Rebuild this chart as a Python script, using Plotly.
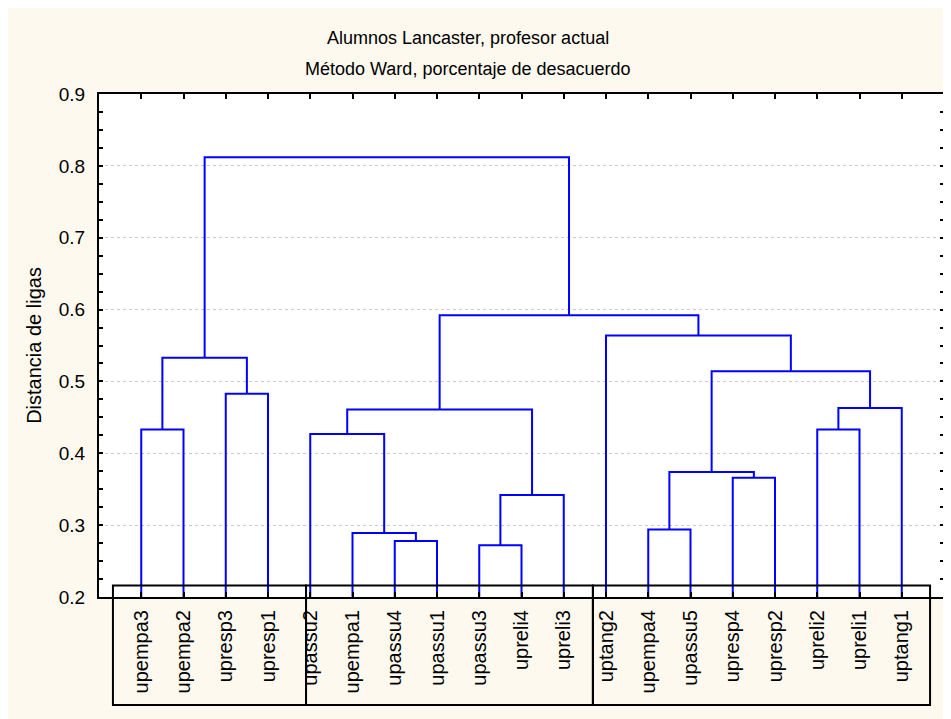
import plotly.graph_objects as go

# ---------------- data ----------------
leaf_labels = ["upempa3", "upempa2", "upresp3", "upresp1", "upassu2", "upempa1",
               "upassu4", "upassu1", "upassu3", "upreli4", "upreli3", "uptang2",
               "upempa4", "upassu5", "upresp4", "upresp2", "upreli2", "upreli1",
               "uptang1"]
# linkage: (left id, right id, height); ids 0..18 are leaves, 19+ are merges in order
merge_left = [0, 2, 19, 6, 5, 4, 8, 25, 24, 12, 14, 28, 16, 31, 30, 11, 27, 21]
merge_right = [1, 3, 20, 7, 22, 23, 9, 10, 26, 13, 15, 29, 17, 18, 32, 33, 34, 35]
merge_height = [0.433, 0.483, 0.533, 0.278, 0.289, 0.427, 0.272, 0.342, 0.461,
                0.294, 0.366, 0.374, 0.433, 0.463, 0.514, 0.564, 0.592, 0.812]
y_ticks = [0.2, 0.3, 0.4, 0.5, 0.6, 0.7, 0.8, 0.9]

title1 = "Alumnos Lancaster, profesor actual"
title2 = "Método Ward, porcentaje de desacuerdo"
y_title = "Distancia de ligas"

# ---------------- dendrogram geometry from linkage ----------------
n = len(leaf_labels)
pos_x = {i: i + 1 for i in range(n)}
pos_y = {i: 0.0 for i in range(n)}
xs, ys = [], []
for k, (a, b, h) in enumerate(zip(merge_left, merge_right, merge_height)):
    xa, ya = pos_x[a], pos_y[a]
    xb, yb = pos_x[b], pos_y[b]
    xs += [xa, xa, xb, xb, None]
    ys += [ya, h, h, yb, None]
    pos_x[n + k] = (xa + xb) / 2
    pos_y[n + k] = h

CREAM = "#fdf9ef"
FONT = "Liberation Sans, Arial, sans-serif"

fig = go.Figure()
fig.add_trace(go.Scatter(x=xs, y=ys, mode="lines",
                         line=dict(color="#0000ff", width=2),
                         hoverinfo="skip", showlegend=False))

# the page body adds an 8px offset; positions below are given in window pixels
OFF = 8
W, H = 951, 719
plot_left, plot_right, plot_top, plot_bottom = 99, 944, 94, 597
L = plot_left - OFF
T = plot_top - OFF
R = W - (plot_right - OFF)
B = H - (plot_bottom - OFF)
pw, ph = W - L - R, H - T - B


def px_to_paper_x(px):
    return (px - OFF - L) / pw


def px_to_paper_y(py):
    return (H - B - (py - OFF)) / ph


shapes = []
# label group boxes
box_edges = [0.33, 4.9, 11.69, 19.67]
for i in range(len(box_edges) - 1):
    shapes.append(dict(type="rect", xref="x", yref="paper",
                       x0=box_edges[i], x1=box_edges[i + 1],
                       y0=px_to_paper_y(705), y1=px_to_paper_y(585.5),
                       line=dict(color="black", width=2), fillcolor="rgba(0,0,0,0)",
                       layer="above"))

fig.update_layout(
    width=W, height=H,
    margin=dict(l=L, r=R, t=T, b=B, pad=0, autoexpand=False),
    paper_bgcolor=CREAM, plot_bgcolor="white",
    font=dict(family=FONT, color="black", size=18),
    showlegend=False,
    shapes=shapes,
    annotations=[
        dict(text=title1, xref="paper", yref="paper", x=px_to_paper_x(467.5), y=px_to_paper_y(38),
             showarrow=False, xanchor="center", yanchor="middle", font=dict(size=18)),
        dict(text=title2, xref="paper", yref="paper", x=px_to_paper_x(467.5), y=px_to_paper_y(69),
             showarrow=False, xanchor="center", yanchor="middle", font=dict(size=18)),
    ],
)

fig.update_xaxes(
    range=[0, n + 1], tickmode="array",
    tickvals=list(range(1, n + 1)), ticktext=leaf_labels,
    tickangle=-90, tickfont=dict(size=20),
    ticks="inside", ticklen=5, tickwidth=2, tickcolor="black",
    ticklabelstandoff=3, automargin=False,
    showline=True, linecolor="black", linewidth=2, mirror="ticks",
    showgrid=False, zeroline=False, fixedrange=True,
)
fig.update_yaxes(
    range=[0.2, 0.9], tickmode="array", tickvals=y_ticks,
    ticktext=[f"{v:.1f}" for v in y_ticks], tickfont=dict(size=19),
    ticks="inside", ticklen=4, tickwidth=2, tickcolor="black",
    ticklabelstandoff=8,
    minor=dict(dtick=0.025, tick0=0.2, ticks="inside", ticklen=4, tickwidth=1.5,
               tickcolor="black", showgrid=False),
    showline=True, linecolor="black", linewidth=2, mirror="ticks",
    showgrid=True, gridcolor="#c8c8c8", griddash="dot", gridwidth=1,
    zeroline=False, fixedrange=True, automargin=False,
    title=dict(text=y_title, font=dict(size=20), standoff=12),
)

fig.write_html("out.html")
